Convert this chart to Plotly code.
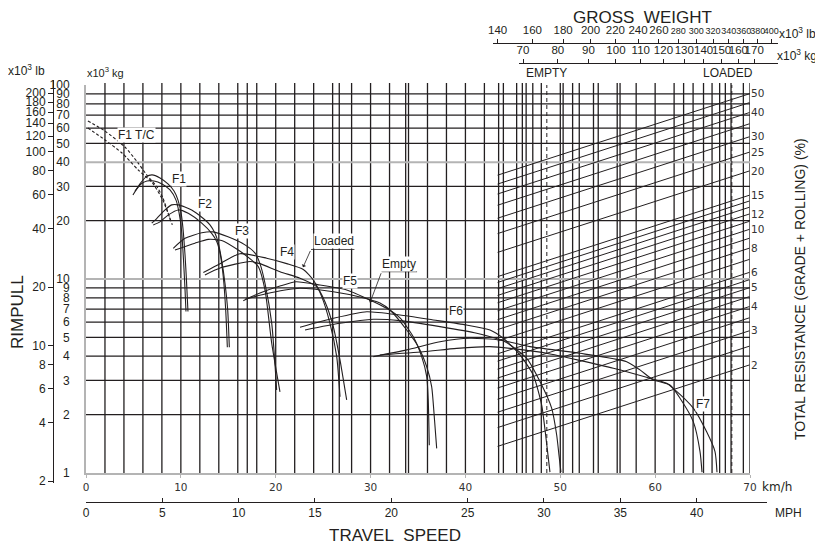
import math
import plotly.graph_objects as go

# page is 823x545; the html body keeps its default 8px margin
OFF = 8
W, H = 823 - OFF, 545 - OFF
INK = "#231f20"
GREY = "#b4b4b4"
FONT = "Liberation Sans, Arial, sans-serif"
TICKFONT = "DejaVu Sans, Verdana, sans-serif"

# ---------------- values ----------------
# travel speed (km/h) / rimpull (x10^3 kg); two curves per gear
f1tc_a_speed = [0.2, 2.0, 4.1, 5.5, 6.4, 7.5, 8.1, 8.9]
f1tc_a_pull = [65.2, 57.9, 47.9, 39.6, 34.4, 29.8, 26.2, 20.1]
f1tc_b_speed = [0.2, 2.0, 3.8, 5.5, 7.0, 8.1, 9.1]
f1tc_b_pull = [60.0, 52.1, 44.6, 36.5, 31.3, 25.5, 19.0]

f1_a_speed = [4.95, 5.69, 6.33, 6.96, 7.80, 8.64, 9.28, 9.70, 10.01, 10.22, 10.44, 10.59, 10.75]
f1_a_pull = [27.1, 30.9, 33.6, 34.4, 33.2, 30.9, 28.4, 25.5, 22.1, 18.3, 13.3, 9.9, 6.8]
f1_b_speed = [5.17, 5.80, 6.43, 7.17, 8.01, 8.86, 9.49, 9.80, 10.07, 10.28, 10.44, 10.54]
f1_b_pull = [28.4, 30.9, 32.0, 32.0, 30.9, 28.8, 25.5, 22.1, 17.9, 12.5, 8.8, 6.8]

f2_a_speed = [6.93, 7.45, 8.33, 9.03, 9.73, 11.14, 12.37, 13.07, 13.60, 13.95, 14.30, 14.65, 14.94, 15.11]
f2_a_pull = [19.4, 20.5, 22.7, 24.1, 24.1, 22.7, 20.5, 19.0, 17.2, 15.3, 12.5, 9.5, 6.9, 4.45]
f2_b_speed = [7.09, 7.80, 8.68, 9.73, 10.78, 12.20, 13.25, 13.78, 14.13, 14.47, 14.73, 14.90]
f2_b_pull = [19.0, 19.7, 21.4, 22.7, 21.8, 19.4, 17.2, 15.6, 13.6, 10.3, 6.9, 4.45]

f3_a_speed = [9.20, 10.44, 12.20, 13.39, 14.97, 16.76, 17.82, 18.34, 18.87, 19.58, 20.10]
f3_a_pull = [14.4, 16.2, 17.3, 17.5, 16.5, 15.0, 13.6, 12.0, 9.5, 5.91, 2.68]
f3_b_speed = [9.38, 11.49, 12.89, 14.30, 16.05, 17.47, 18.16, 18.87, 19.58, 20.45]
f3_b_pull = [14.1, 15.3, 16.0, 15.8, 14.1, 12.5, 11.6, 8.78, 4.66, 2.62]

f4_a_speed = [12.37, 14.13, 16.23, 19.05, 21.16, 22.91, 23.96, 24.85, 25.72, 26.43, 26.78]
f4_a_pull = [10.8, 12.0, 13.5, 12.8, 12.0, 11.2, 9.88, 8.11, 5.91, 3.98, 2.47]
f4_b_speed = [12.54, 14.13, 17.29, 18.34, 20.45, 22.56, 24.32, 25.19, 26.07, 26.78, 27.48]
f4_b_pull = [10.5, 11.4, 12.3, 12.0, 10.9, 10.1, 9.13, 7.64, 5.68, 3.82, 2.38]

f5_a_speed = [16.58, 18.34, 20.45, 22.14, 24.67, 27.48, 29.93, 31.70, 33.10, 34.50, 35.39, 35.92, 36.08, 36.19]
f5_a_pull = [7.73, 8.47, 9.20, 9.68, 9.31, 8.78, 7.80, 7.06, 6.30, 5.04, 3.98, 3.14, 2.38, 1.39]
f5_b_speed = [16.76, 18.87, 20.98, 22.56, 26.07, 28.88, 30.99, 32.05, 33.81, 35.03, 35.92, 36.44, 36.74, 36.97]
f5_b_pull = [7.86, 8.37, 8.78, 8.96, 8.60, 8.08, 7.52, 6.92, 5.46, 4.48, 3.53, 2.79, 1.88, 1.34]

f6_a_speed = [22.56, 26.07, 29.59, 33.10, 36.61, 40.13, 42.59, 43.99, 45.75, 47.15, 48.04, 48.39, 48.70, 48.91]
f6_a_pull = [5.64, 6.27, 6.78, 6.52, 6.15, 5.79, 5.46, 4.95, 4.06, 3.20, 2.24, 1.67, 1.24, 1.01]
f6_b_speed = [23.09, 26.78, 30.29, 33.10, 37.32, 41.19, 44.17, 46.46, 47.86, 49.09, 49.62, 49.86, 50.07]
f6_b_pull = [5.46, 5.91, 6.20, 6.10, 5.68, 5.25, 4.75, 3.90, 2.96, 2.16, 1.57, 1.24, 1.01]

f7_a_speed = [30.29, 33.81, 37.32, 40.48, 43.64, 46.81, 52.08, 57.00, 58.40, 59.80, 61.56, 62.62, 64.02, 64.73, 64.94]
f7_a_pull = [3.98, 4.31, 4.75, 4.95, 4.85, 4.48, 4.14, 3.75, 3.40, 3.02, 2.84, 2.43, 1.84, 1.29, 1.01]
f7_b_speed = [30.99, 35.56, 39.08, 42.59, 46.10, 48.57, 55.59, 59.46, 61.22, 61.91, 64.02, 65.43, 66.31, 66.52]
f7_b_pull = [4.06, 4.22, 4.39, 4.48, 4.31, 4.14, 3.47, 3.08, 2.90, 2.73, 2.16, 1.63, 1.29, 1.01]

# gross weight / total resistance nomograph
grade_pct = [50, 45, 40, 35, 30, 25, 20, 15, 14, 13, 12, 11, 10, 9, 8, 7, 6, 5.5, 5, 4.5, 4, 3.5, 3, 2.5, 2]
grade_labels = [50, 40, 30, 25, 20, 15, 12, 10, 8, 6, 5, 4, 3, 2]
grade_gw_klb = [140, 368]          # gross weight span of the resistance lines
grade_factor = 1.08                # rimpull per unit of weight x resistance, as drawn
empty_gw_t = 76.7
loaded_gw_t = 156.0
LB_PER_KG = 0.45359

# axis ticks
kmh_ticks = [0, 10, 20, 30, 40, 50, 60, 70]
mph_ticks = [0, 5, 10, 15, 20, 25, 30, 35, 40]
kg_ticks = [1, 2, 3, 4, 5, 6, 7, 8, 9, 10, 20, 30, 40, 50, 60, 70, 80, 90, 100]
lb_ticks = [2, 4, 6, 8, 10, 20, 40, 60, 80, 100, 120, 140, 160, 180, 200]
gw_kg_ticks = [70, 80, 90, 100, 110, 120, 130, 140, 150, 160, 170]
gw_lb_ticks = [140, 160, 180, 200, 220, 240, 260, 280, 300, 320, 340, 360, 380, 400]

# grid lines
speed_grid = list(range(2, 71, 2)) + [17.0, 26.7, 33.7, 43.5, 45.4, 46.4, 47.1, 50.3, 51.3,
                                       53.5, 56.3, 63.0, 65.1, 66.8, 67.4, 69.3]
pull_grid = [2, 3, 4, 5, 6, 7, 8, 9, 20, 30, 50, 60, 70, 80, 90]
pull_grid_grey = [10, 40]


def px_x(p):
    # page pixel -> paper fraction
    return (p - OFF) / W


def px_y(p):
    return 1 - (p - OFF) / H


fig = go.Figure()


def curve(xs, ys, dash="solid", xaxis="x", yaxis="y"):
    fig.add_trace(go.Scatter(
        x=xs, y=ys, mode="lines", xaxis=xaxis, yaxis=yaxis,
        line=dict(color=INK, width=1.1, dash=dash, shape="spline", smoothing=0.6),
        hoverinfo="skip", showlegend=False,
    ))


curve(f1tc_a_speed, f1tc_a_pull, dash="3px,2px")
curve(f1tc_b_speed, f1tc_b_pull, dash="3px,2px")
for xs, ys in [(f1_a_speed, f1_a_pull), (f1_b_speed, f1_b_pull),
               (f2_a_speed, f2_a_pull), (f2_b_speed, f2_b_pull),
               (f3_a_speed, f3_a_pull), (f3_b_speed, f3_b_pull),
               (f4_a_speed, f4_a_pull), (f4_b_speed, f4_b_pull),
               (f5_a_speed, f5_a_pull), (f5_b_speed, f5_b_pull),
               (f6_a_speed, f6_a_pull), (f6_b_speed, f6_b_pull),
               (f7_a_speed, f7_a_pull), (f7_b_speed, f7_b_pull)]:
    curve(xs, ys)

# resistance lines: rimpull = gross weight x resistance
gx, gy = [], []
for r in grade_pct:
    for w in grade_gw_klb:
        gx.append(w)
        gy.append(w * LB_PER_KG * r / 100 * grade_factor)
    gx.append(None)
    gy.append(None)
fig.add_trace(go.Scatter(x=gx, y=gy, mode="lines", xaxis="x4", yaxis="y",
                         line=dict(color=INK, width=1.0), hoverinfo="skip", showlegend=False))

# empty / loaded gross weight markers
fig.add_trace(go.Scatter(x=[empty_gw_t, empty_gw_t, None, loaded_gw_t, loaded_gw_t],
                         y=[1, 100, None, 1, 100], mode="lines", xaxis="x3", yaxis="y",
                         line=dict(color=INK, width=1.0, dash="4px,3px"),
                         hoverinfo="skip", showlegend=False))

# invisible anchors for the extra scales
for xa, ya in [("x2", "y"), ("x", "y2"), ("x", "y3")]:
    fig.add_trace(go.Scatter(x=[10], y=[20], xaxis=xa, yaxis=ya, mode="markers",
                             marker=dict(opacity=0), hoverinfo="skip", showlegend=False))

# grid
shapes = []
for s in speed_grid:
    shapes.append(dict(type="line", xref="x", yref="y domain", x0=s, x1=s, y0=0, y1=1.005,
                       line=dict(color=INK, width=1.3), layer="below"))
for p in pull_grid:
    shapes.append(dict(type="line", xref="x domain", yref="y", x0=0, x1=1, y0=p, y1=p,
                       line=dict(color=INK, width=1.3), layer="below"))
for p in pull_grid_grey:
    shapes.append(dict(type="line", xref="x domain", yref="y", x0=0, x1=1, y0=p, y1=p,
                       line=dict(color=GREY, width=2), layer="below"))

# leader lines under "Loaded" / "Empty"
shapes.append(dict(type="line", xref="x", yref="y", x0=23.72, x1=28.3, y0=14.2, y1=14.2,
                   line=dict(color=INK, width=0.8)))
shapes.append(dict(type="line", xref="x", yref="y", x0=31.17, x1=34.9, y0=10.9, y1=10.9,
                   line=dict(color=INK, width=0.8)))

ann = []
lg = math.log10


def label(text, x, y, size=12):
    ann.append(dict(text=text, x=x, y=lg(y), xref="x", yref="y", showarrow=False,
                    xanchor="center", yanchor="middle",
                    font=dict(family=FONT, size=size, color=INK), bgcolor="white", borderpad=0))


label("F1 T/C", 5.34, 55.2)
label("F1", 9.84, 32.7)
label("F2", 12.54, 24.4)
label("F3", 16.41, 17.7)
label("F4", 21.16, 13.8)
label("F5", 27.83, 9.76)
label("F6", 38.97, 6.87)
label("F7", 65.04, 2.27)
ann.append(dict(text="Loaded", x=26.1, y=lg(14.2), xref="x", yref="y", xanchor="center",
                yanchor="bottom", showarrow=False, borderpad=0,
                font=dict(family=FONT, size=12, color=INK), bgcolor="white"))
ann.append(dict(text="Empty", x=33.0, y=lg(10.9), xref="x", yref="y", xanchor="center",
                yanchor="bottom", showarrow=False, borderpad=0,
                font=dict(family=FONT, size=12, color=INK), bgcolor="white"))
ann.append(dict(text="", x=22.88, y=lg(11.5), ax=23.72, ay=lg(14.2), xref="x", yref="y",
                axref="x", ayref="y", showarrow=True, arrowhead=1, arrowsize=1,
                arrowwidth=0.8, arrowcolor=INK, standoff=0))
ann.append(dict(text="", x=29.94, y=lg(7.55), ax=31.17, ay=lg(10.9), xref="x", yref="y",
                axref="x", ayref="y", showarrow=True, arrowhead=1, arrowsize=1,
                arrowwidth=0.8, arrowcolor=INK, standoff=0))


def paper_text(text, x, y, size=12, family=FONT, angle=0):
    ann.append(dict(text=text, x=px_x(x), y=px_y(y), xref="paper", yref="paper",
                    xanchor="center", yanchor="middle",
                    showarrow=False, textangle=angle,
                    font=dict(family=family, size=size, color=INK)))


paper_text("GROSS&nbsp;&nbsp;WEIGHT", 642, 17, size=17)
paper_text("x10<sup>3</sup> lb", 797, 33, size=12)
paper_text("x10<sup>3</sup> kg", 797, 55, size=12)
paper_text("EMPTY", 546, 73, size=12)
paper_text("LOADED", 728, 73, size=12)
paper_text("x10<sup>3</sup> lb", 26, 70, size=12)
paper_text("x10<sup>3</sup> kg", 105, 72, size=11)
paper_text("RIMPULL", 17, 312, size=17, angle=-90)
paper_text("km/h", 777, 487, size=12, family=TICKFONT)
paper_text("MPH", 788, 513, size=12)
paper_text("TRAVEL&nbsp;&nbsp;SPEED", 395, 535, size=17)
paper_text("TOTAL RESISTANCE (GRADE + ROLLING) (%)", 800, 289, size=14,
           family="Liberation Sans Narrow, Arial Narrow, sans-serif", angle=-90)

small = [280, 300, 320, 340, 360, 380, 400]
gw_lb_text = [f'<span style="font-size:9px">{v}</span>' if v in small else str(v)
              for v in gw_lb_ticks]

grade_end_pull = [grade_gw_klb[1] * LB_PER_KG * r / 100 * grade_factor for r in grade_labels]

common = dict(showgrid=False, zeroline=False, automargin=False, tickangle=0)

fig.update_layout(
    width=W, height=H, autosize=False,
    margin=dict(l=0, r=0, t=0, b=0, autoexpand=False),
    paper_bgcolor="white", plot_bgcolor="rgba(0,0,0,0)",
    showlegend=False,
    shapes=shapes, annotations=ann,
    xaxis=dict(domain=[px_x(86), px_x(750)], range=[0, 70], anchor="y", **common,
               showline=True, linecolor=GREY, linewidth=2,
               ticks="outside", ticklen=3, tickcolor=GREY, tickvals=kmh_ticks,
               tickfont=dict(family=TICKFONT, size=10.5, color="#333")),
    xaxis2=dict(domain=[px_x(86), px_x(767)], range=[0, 71.79 / 1.609344],
                anchor="free", position=px_y(502), side="bottom", **common,
                showline=True, linecolor=INK, linewidth=1,
                ticks="inside", ticklen=4, tickcolor=INK, tickvals=mph_ticks,
                tickfont=dict(family=FONT, size=12, color=INK)),
    xaxis3=dict(type="log", domain=[px_x(519), px_x(778)], range=[1.83843, 2.27010],
                anchor="free", position=px_y(63), side="top", **common,
                showline=True, linecolor=INK, linewidth=1,
                ticks="outside", ticklen=4, tickcolor=INK, tickvals=gw_kg_ticks,
                ticktext=[str(v) for v in gw_kg_ticks],
                tickfont=dict(family=FONT, size=11.5, color=INK)),
    xaxis4=dict(type="log", domain=[px_x(493), px_x(778)], range=[2.13843, 2.61343],
                anchor="free", position=px_y(43), side="top", **common,
                showline=True, linecolor=INK, linewidth=1,
                ticks="outside", ticklen=4, tickcolor=INK, tickvals=gw_lb_ticks,
                ticktext=gw_lb_text,
                tickfont=dict(family=FONT, size=11.5, color=INK)),
    yaxis=dict(type="log", range=[0, 2], domain=[px_y(473), px_y(85)], anchor="x", **common,
               showline=True, linecolor=GREY, linewidth=2,
               ticks="", tickvals=kg_ticks, ticktext=[str(v) for v in kg_ticks],
               ticklabelstandoff=12,
               tickfont=dict(family=FONT, size=12, color=INK)),
    yaxis2=dict(type="log", range=[0.29178, 2.36910], domain=[px_y(483), px_y(80)],
                anchor="free", position=px_x(53), side="left", **common,
                showline=True, linecolor=INK, linewidth=1,
                ticks="outside", ticklen=5, tickcolor=INK, tickvals=lb_ticks,
                ticktext=[str(v) for v in lb_ticks],
                tickfont=dict(family=FONT, size=12, color=INK)),
    yaxis3=dict(type="log", range=[0, 2], overlaying="y", anchor="x", side="right", **common,
                showline=False, ticks="",
                tickvals=grade_end_pull, ticktext=[str(v) for v in grade_labels],
                tickfont=dict(family=TICKFONT, size=10.5, color="#333")),
)

fig.write_html("out.html")
